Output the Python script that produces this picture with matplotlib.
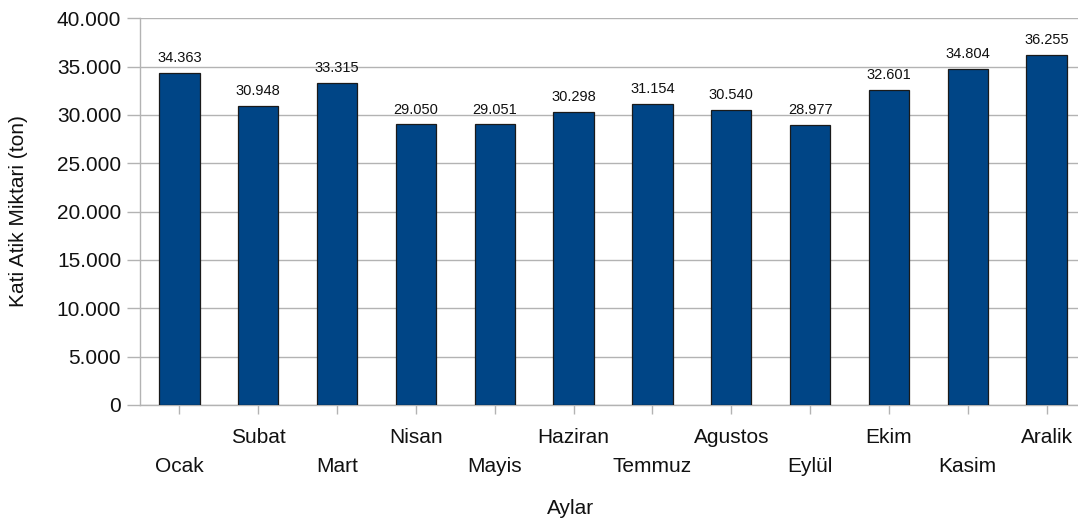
import matplotlib
matplotlib.use("Agg")
import matplotlib.pyplot as plt
from matplotlib.ticker import FuncFormatter

months = ["Ocak", "Subat", "Mart", "Nisan", "Mayis", "Haziran", "Temmuz",
          "Agustos", "Eylül", "Ekim", "Kasim", "Aralik"]
values = [34363, 30948, 33315, 29050, 29051, 30298, 31154, 30540, 28977,
          32601, 34804, 36255]
yticks = [0, 5000, 10000, 15000, 20000, 25000, 30000, 35000, 40000]

plt.rcParams['font.family'] = ['Liberation Sans', 'DejaVu Sans']

W, H = 1078, 523
fig = plt.figure(figsize=(W / 100, H / 100), dpi=100)
left_px, right_px, top_px, bot_px = 140, 1086, 18.3, 405
ax = fig.add_axes([left_px / W, (H - bot_px) / H,
                   (right_px - left_px) / W, (bot_px - top_px) / H])

grid_c = "#b3b3b3"
x = list(range(len(months)))
bars = ax.bar(x, values, width=0.51, color="#004586", edgecolor="#1a1a1a",
              linewidth=0.9, zorder=3)

def dotfmt(v, pos=None):
    return f"{int(round(v)):,}".replace(",", ".")

for xi, v in zip(x, values):
    ax.annotate(dotfmt(v), (xi, v), xytext=(0, 5.5), textcoords="offset points",
                ha="center", va="bottom", fontsize=10.5, color="#111111")

ax.set_xlim(-0.5, len(months) - 0.5)
ax.set_ylim(0, 40000)
ax.set_yticks(yticks)
ax.yaxis.set_major_formatter(FuncFormatter(dotfmt))
ax.set_xticks(x)
ax.set_xticklabels([("\n" + m) if i % 2 == 0 else m for i, m in enumerate(months)],
                   linespacing=1.7)

ax.grid(axis="y", color=grid_c, linewidth=1, zorder=0)
ax.set_axisbelow(True)
for s in ["top", "right"]:
    ax.spines[s].set_visible(False)
for s in ["left", "bottom"]:
    ax.spines[s].set_color(grid_c)
    ax.spines[s].set_linewidth(1)

ax.tick_params(axis="y", length=9.5, width=1, color=grid_c, pad=4,
               labelsize=15, labelcolor="#111111")
ax.tick_params(axis="x", length=6.5, width=1, color=grid_c, pad=10,
               labelsize=15, labelcolor="#111111")

fig.text(571 / W, 1 - 508 / H, "Aylar", ha="center", va="center",
         fontsize=15, color="#111111")
fig.text(19 / W, 1 - 211 / H, "Kati Atik Miktari (ton)", ha="center",
         va="center", rotation=90, fontsize=15, color="#111111")

fig.savefig("out.png", dpi=100)
